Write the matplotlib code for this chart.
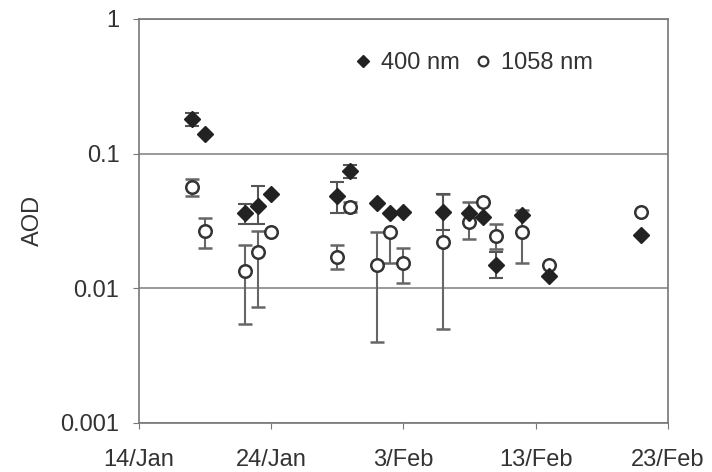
import numpy as np
import pandas as pd
import matplotlib
matplotlib.use("Agg")
import matplotlib.pyplot as plt
from matplotlib.lines import Line2D

plt.rcParams['font.family'] = ['Liberation Sans', 'DejaVu Sans']

# 400 nm (filled diamonds)
dates_400 = ["18/Jan", "19/Jan", "22/Jan", "23/Jan", "24/Jan", "29/Jan", "30/Jan",
             "1/Feb", "2/Feb", "3/Feb", "6/Feb", "8/Feb", "9/Feb", "10/Feb",
             "12/Feb", "14/Feb", "21/Feb"]
aod_400 = [0.18, 0.14, 0.036, 0.041, 0.050, 0.048, 0.074,
           0.043, 0.036, 0.037, 0.037, 0.036, 0.034, 0.015,
           0.035, 0.0123, 0.025]
lo_400 = [0.16, 0.14, 0.030, 0.030, 0.050, 0.036, 0.066,
          0.043, 0.036, 0.037, 0.027, 0.036, 0.034, 0.012,
          0.035, 0.0123, 0.025]
hi_400 = [0.20, 0.14, 0.042, 0.057, 0.050, 0.061, 0.082,
          0.043, 0.036, 0.037, 0.050, 0.036, 0.034, 0.0185,
          0.035, 0.0123, 0.025]

# 1058 nm (open circles)
dates_1058 = ["18/Jan", "19/Jan", "22/Jan", "23/Jan", "24/Jan", "29/Jan", "30/Jan",
              "1/Feb", "2/Feb", "3/Feb", "6/Feb", "8/Feb", "9/Feb", "10/Feb",
              "12/Feb", "14/Feb", "21/Feb"]
aod_1058 = [0.056, 0.0264, 0.0134, 0.0185, 0.026, 0.017, 0.040,
            0.015, 0.026, 0.0153, 0.022, 0.031, 0.044, 0.0243,
            0.026, 0.015, 0.0366]
lo_1058 = [0.048, 0.020, 0.0054, 0.0072, 0.026, 0.014, 0.037,
           0.004, 0.0155, 0.011, 0.005, 0.0234, 0.044, 0.0195,
           0.0153, 0.015, 0.0366]
hi_1058 = [0.065, 0.033, 0.021, 0.0265, 0.026, 0.021, 0.044,
           0.026, 0.026, 0.020, 0.050, 0.044, 0.044, 0.030,
           0.038, 0.015, 0.0366]

tick_dates = ["14/Jan", "24/Jan", "3/Feb", "13/Feb", "23/Feb"]


def to_dt(labels):
    return pd.to_datetime([s + "/2000" for s in labels], format="%d/%b/%Y")


x400 = to_dt(dates_400)
x1058 = to_dt(dates_1058)
xt = to_dt(tick_dates)

v400 = np.array(aod_400)
v1058 = np.array(aod_1058)

fig = plt.figure(figsize=(7.12, 4.72), dpi=100)
ax = fig.add_axes([0.195, 0.104, 0.743, 0.856])

ax.errorbar(x1058, v1058, yerr=[v1058 - np.array(lo_1058), np.array(hi_1058) - v1058],
            fmt='o', ms=9, mfc='white', mec='#333333', mew=1.8,
            ecolor='#666666', elinewidth=1.5, capsize=5, capthick=1.5, zorder=3)
ax.errorbar(x400, v400, yerr=[v400 - np.array(lo_400), np.array(hi_400) - v400],
            fmt='D', ms=8.5, mfc='#222222', mec='#222222',
            ecolor='#555555', elinewidth=1.5, capsize=5, capthick=1.5, zorder=4)

ax.set_yscale('log')
ax.set_ylim(0.001, 1)
ax.set_xlim(xt[0], xt[-1])
ax.set_yticks([0.001, 0.01, 0.1, 1])
ax.set_yticklabels(["0.001", "0.01", "0.1", "1"])
ax.yaxis.set_minor_locator(matplotlib.ticker.NullLocator())
ax.set_xticks(xt)
ax.set_xticklabels(tick_dates)
ax.yaxis.grid(True, color='#888888', lw=1.2)
ax.set_axisbelow(True)

for s in ax.spines.values():
    s.set_color('#777777')
    s.set_linewidth(1.2)
ax.tick_params(axis='both', labelsize=17, labelcolor='#333333',
               color='#777777', length=4)
ax.tick_params(axis='x', pad=15)
ax.tick_params(axis='y', pad=10)
ax.set_ylabel("AOD", fontsize=17, color='#333333', labelpad=12)

handles = [
    Line2D([], [], ls='none', marker='D', ms=6, mfc='#222222', mec='#222222'),
    Line2D([], [], ls='none', marker='o', ms=7, mfc='white', mec='#333333', mew=1.6),
]
leg = ax.legend(handles, ["400 nm", "1058 nm"], loc='center',
                bbox_to_anchor=(0.63, 0.89), ncol=2, frameon=False,
                fontsize=17, handletextpad=0.25, columnspacing=0.5,
                handlelength=1.0, borderpad=0)
for t in leg.get_texts():
    t.set_color('#333333')

fig.savefig("out.png", dpi=100)
